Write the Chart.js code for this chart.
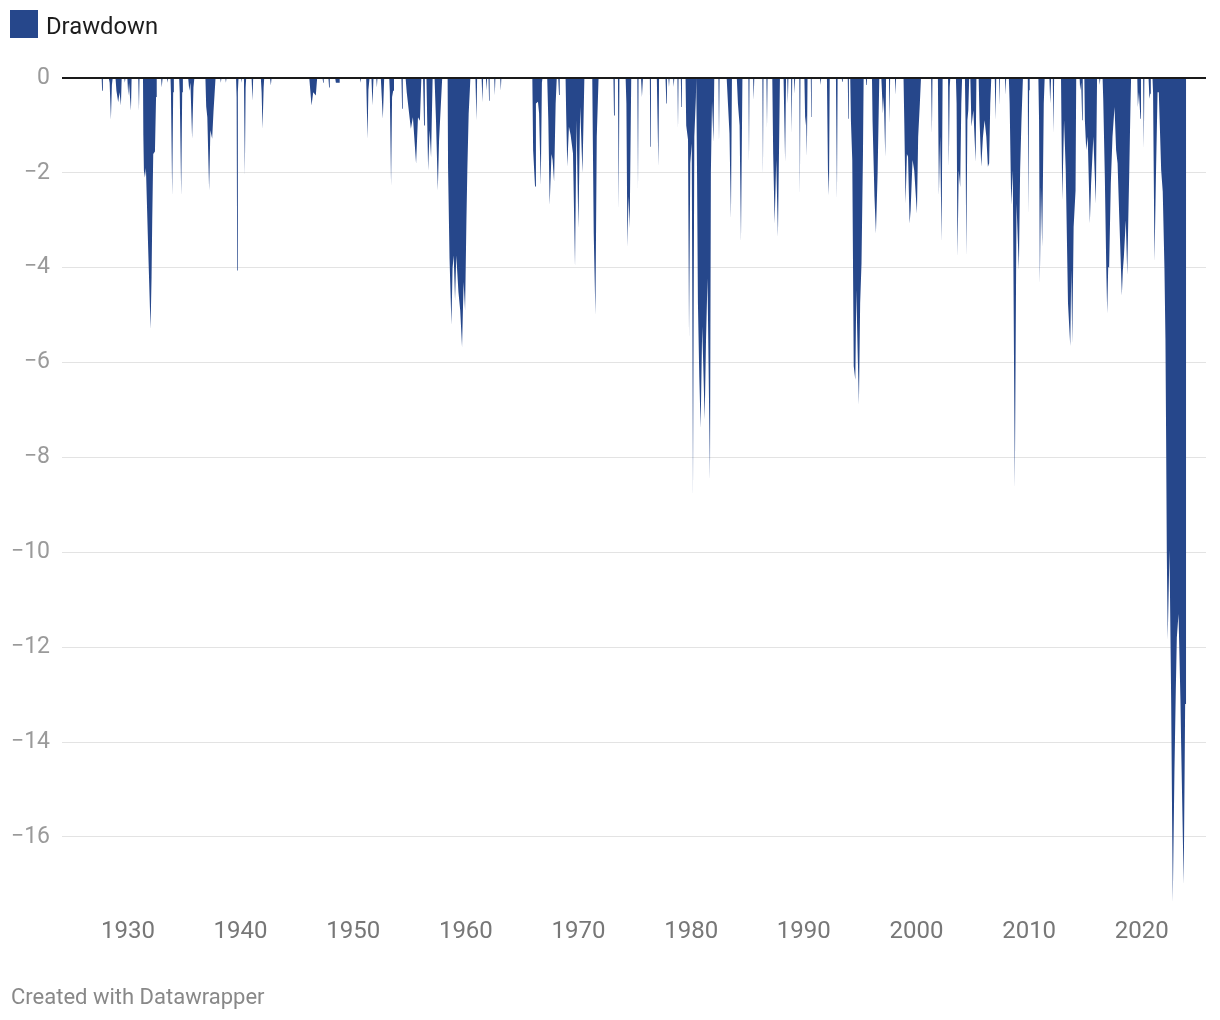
<!DOCTYPE html>
<html>
<head>
<meta charset="utf-8">
<script src="https://cdn.jsdelivr.net/npm/chart.js@4.4.1/dist/chart.umd.min.js"></script>
<style>
  html, body { margin: 0; padding: 0; background: #fff; }
  body { width: 1220px; height: 1020px; position: relative; overflow: hidden; font-family: Roboto, sans-serif; }
  #chart { position: absolute; left: 0; top: 0; }
  .swatch { position: absolute; left: 10px; top: 10px; width: 28px; height: 28px; background: #26478b; }
  .legend-label { position: absolute; left: 46px; top: 12px; font-size: 23.8px; color: #1d1d1d; }
  .credit { position: absolute; left: 11px; top: 984px; font-size: 22px; color: #888; }
</style>
</head>
<body>
<canvas id="chart" width="1220" height="1020"></canvas>
<div class="swatch"></div>
<div class="legend-label">Drawdown</div>
<div class="credit">Created with Datawrapper</div>
<script>
// [year, drawdown], one array per decade
const dd1920s = [
  [1927.65, 0], [1927.72, -0.27], [1927.78, 0],
  [1928.30, 0], [1928.38, -0.1], [1928.49, -0.88], [1928.58, -0.15], [1928.65, 0],
  [1928.90, 0], [1928.98, -0.27], [1929.14, -0.51], [1929.26, -0.3], [1929.38, -0.58], [1929.45, 0],
  [1929.68, 0], [1929.73, -0.1], [1929.78, 0],
  [1929.95, 0]
];
const dd1930s = [
  [1930.03, -0.37], [1930.10, -0.1], [1930.27, -0.69], [1930.33, 0],
  [1930.92, 0], [1930.98, -0.69], [1931.03, 0],
  [1931.34, 0], [1931.37, -1.2], [1931.42, -1.95], [1931.51, -2.1], [1931.60, -1.9], [1931.80, -3.6],
  [1932.01, -5.29], [1932.10, -4.2], [1932.16, -3.0], [1932.25, -1.6], [1932.40, -1.55], [1932.50, -0.4], [1932.56, 0],
  [1932.95, 0], [1933.00, -0.2], [1933.08, 0],
  [1933.47, 0], [1933.52, -0.1], [1933.57, 0],
  [1933.78, 0], [1933.82, -0.3], [1933.93, -2.48], [1934.02, -0.3], [1934.08, 0],
  [1934.55, 0], [1934.60, -0.3], [1934.73, -2.48], [1934.82, -0.3], [1934.88, 0],
  [1935.35, 0], [1935.45, -0.27], [1935.55, -0.1], [1935.70, -1.28], [1935.82, -0.2], [1935.90, 0],
  [1936.88, 0], [1936.95, -0.6], [1937.05, -0.83], [1937.21, -2.37], [1937.32, -1.1], [1937.48, -1.28], [1937.60, -0.7], [1937.78, 0],
  [1938.20, 0], [1938.25, -0.1], [1938.30, 0],
  [1938.65, 0], [1938.70, -0.1], [1938.75, 0],
  [1939.60, 0], [1939.65, -0.4], [1939.70, -4.06], [1939.76, -0.3], [1939.82, 0]
];
const dd1940s = [
  [1940.05, 0], [1940.09, -0.1], [1940.13, 0],
  [1940.30, 0], [1940.38, -2.06], [1940.45, -0.2], [1940.50, 0],
  [1940.98, 0], [1941.06, -0.48], [1941.12, 0],
  [1941.80, 0], [1941.87, -0.3], [1941.95, -1.07], [1942.05, -0.2], [1942.10, 0],
  [1942.62, 0], [1942.69, -0.16], [1942.75, 0],
  [1946.10, 0], [1946.30, -0.58], [1946.45, -0.3], [1946.68, -0.37], [1946.80, 0],
  [1947.28, 0], [1947.33, -0.1], [1947.38, 0],
  [1947.80, 0], [1947.86, -0.2], [1947.92, 0],
  [1948.40, 0], [1948.46, -0.1], [1948.75, -0.1], [1948.80, 0]
];
const dd1950s = [
  [1950.60, 0], [1950.65, -0.1], [1950.70, 0],
  [1951.15, 0], [1951.27, -1.28], [1951.35, -0.25], [1951.45, 0],
  [1951.62, 0], [1951.71, -0.58], [1951.80, 0],
  [1952.05, 0], [1952.10, -0.2], [1952.15, 0],
  [1952.45, 0], [1952.63, -0.86], [1952.75, 0],
  [1953.20, 0], [1953.25, -0.3], [1953.36, -2.27], [1953.45, -0.4], [1953.55, -0.27], [1953.62, 0],
  [1954.28, 0], [1954.34, -0.65], [1954.40, 0],
  [1954.65, 0], [1954.75, -0.3], [1955.00, -0.83], [1955.12, -1.07], [1955.30, -0.83], [1955.58, -1.81],
  [1955.75, -0.83], [1955.92, -0.9], [1956.05, 0],
  [1956.20, 0], [1956.29, -1.0], [1956.36, 0],
  [1956.50, 0], [1956.65, -1.95], [1956.78, -1.1], [1956.91, -1.67], [1957.05, 0],
  [1957.22, 0], [1957.35, -0.9], [1957.51, -2.37], [1957.62, -1.32], [1957.90, 0],
  [1958.38, 0], [1958.42, -1.9], [1958.55, -3.8], [1958.72, -5.21], [1958.82, -4.0], [1958.92, -3.74],
  [1959.04, -4.69], [1959.15, -3.74], [1959.34, -4.51], [1959.50, -4.9], [1959.66, -5.67], [1959.80, -4.3],
  [1959.93, -4.9]
];
const dd1960s = [
  [1960.05, -3.0], [1960.13, -1.95], [1960.25, -0.75], [1960.35, -0.27], [1960.40, 0],
  [1960.85, 0], [1960.94, -0.9], [1961.00, 0],
  [1961.40, 0], [1961.47, -0.51], [1961.53, 0],
  [1961.78, 0], [1961.83, -0.27], [1961.88, 0],
  [1962.01, 0], [1962.06, -0.48], [1962.11, 0],
  [1962.52, 0], [1962.57, -0.37], [1962.62, 0],
  [1963.05, 0], [1963.10, -0.27], [1963.15, 0],
  [1965.90, 0], [1965.97, -1.52], [1966.14, -2.29], [1966.22, -0.54], [1966.40, -0.5], [1966.50, -0.75],
  [1966.65, -2.26], [1966.75, -0.1], [1966.80, 0],
  [1967.22, 0], [1967.32, -0.9], [1967.44, -2.68], [1967.60, -1.6], [1967.70, -1.73], [1967.83, -2.19],
  [1967.97, -0.54], [1968.07, 0],
  [1968.20, 0], [1968.27, -0.36], [1968.33, 0],
  [1968.85, 0], [1968.90, -0.7], [1969.00, -1.87], [1969.15, -1.03], [1969.30, -1.2], [1969.51, -1.59],
  [1969.69, -3.98], [1969.82, -0.89], [1969.99, -3.17]
];
const dd1970s = [
  [1970.15, -0.61], [1970.35, -2.01], [1970.52, 0],
  [1971.22, 0], [1971.27, -1.3], [1971.35, -3.28], [1971.50, -5.0], [1971.62, -1.24], [1971.78, 0],
  [1973.10, 0], [1973.15, -0.79], [1973.22, 0],
  [1973.50, 0], [1973.57, -2.79], [1973.63, 0],
  [1974.18, 0], [1974.25, -0.54], [1974.34, -3.56], [1974.44, -2.5], [1974.54, -3.17], [1974.68, 0],
  [1975.22, 0], [1975.28, -2.37], [1975.33, 0],
  [1975.55, 0], [1975.63, -0.4], [1975.72, 0],
  [1976.33, 0], [1976.38, -1.45], [1976.43, 0],
  [1976.95, 0], [1977.09, -1.87], [1977.15, 0],
  [1977.72, 0], [1977.80, -0.54], [1977.85, 0],
  [1977.98, 0], [1978.03, -0.19], [1978.08, 0],
  [1978.40, 0], [1978.45, -0.19], [1978.50, 0],
  [1978.78, 0], [1978.83, -1.07], [1978.88, 0],
  [1979.08, 0], [1979.13, -0.61], [1979.18, 0],
  [1979.50, 0], [1979.56, -1.0], [1979.72, -1.3], [1979.81, -5.52], [1979.92, -1.8]
];
const dd1980s = [
  [1980.05, -1.38], [1980.16, -8.86], [1980.28, -1.24], [1980.42, -0.4], [1980.45, 0],
  [1980.48, 0], [1980.52, -2.0], [1980.60, -4.75], [1980.72, -6.3], [1980.84, -7.38], [1980.98, -5.24],
  [1981.20, -7.2], [1981.32, -5.5], [1981.45, -4.22], [1981.67, -8.47], [1981.75, -2.0], [1981.85, -0.5],
  [1981.98, -1.35], [1982.05, 0],
  [1982.42, 0], [1982.47, -1.35], [1982.52, 0],
  [1983.15, 0], [1983.25, -0.47], [1983.40, -1.17], [1983.53, -2.96], [1983.62, 0],
  [1984.05, 0], [1984.15, -0.54], [1984.30, -1.0], [1984.42, -3.45], [1984.55, 0],
  [1985.08, 0], [1985.13, -1.77], [1985.18, 0],
  [1985.50, 0], [1985.55, -0.47], [1985.60, 0],
  [1986.32, 0], [1986.37, -2.05], [1986.42, 0],
  [1986.68, 0], [1986.73, -1.07], [1986.78, 0],
  [1987.20, 0], [1987.28, -1.6], [1987.41, -3.07], [1987.55, -1.73], [1987.70, -3.35], [1987.88, 0],
  [1988.20, 0], [1988.34, -1.77], [1988.42, 0],
  [1988.53, 0], [1988.58, -0.54], [1988.63, 0],
  [1988.87, 0], [1988.92, -1.17], [1988.97, 0],
  [1989.13, 0], [1989.18, -0.33], [1989.23, 0],
  [1989.60, 0], [1989.65, -2.47], [1989.70, 0]
];
const dd1990s = [
  [1990.05, 0], [1990.13, -1.0], [1990.20, -0.8], [1990.27, -1.66], [1990.33, 0],
  [1990.62, 0], [1990.66, -0.82], [1990.70, 0],
  [1991.44, 0], [1991.49, -0.15], [1991.54, 0],
  [1992.05, 0], [1992.14, -1.94], [1992.23, -2.47], [1992.30, 0],
  [1992.85, 0], [1992.94, -2.58], [1993.00, 0],
  [1993.36, 0], [1993.41, -0.08], [1993.46, 0],
  [1993.90, 0], [1993.95, -0.86], [1994.00, 0],
  [1994.12, 0], [1994.18, -0.9], [1994.30, -1.73], [1994.43, -6.08], [1994.57, -6.36], [1994.66, -4.47],
  [1994.78, -5.8], [1994.89, -6.89], [1995.00, -4.75], [1995.12, -3.91], [1995.25, -1.6], [1995.31, 0],
  [1995.50, 0], [1995.55, -0.15], [1995.60, 0],
  [1996.05, 0], [1996.10, -0.9], [1996.27, -2.5], [1996.40, -3.28], [1996.55, -2.01], [1996.70, 0],
  [1996.88, 0], [1997.02, -0.75], [1997.10, -0.4], [1997.23, -1.66], [1997.30, 0],
  [1997.56, 0], [1997.61, -0.96], [1997.66, 0],
  [1998.09, 0], [1998.14, -0.36], [1998.19, 0],
  [1998.85, 0], [1998.92, -0.96], [1999.03, -2.65], [1999.15, -1.6], [1999.25, -1.66], [1999.39, -3.07],
  [1999.48, -2.79], [1999.65, -1.73], [1999.80, -1.95]
];
const dd2000s = [
  [2000.04, -2.86], [2000.15, -1.24], [2000.30, -0.54], [2000.40, 0],
  [2001.30, 0], [2001.37, -1.17], [2001.42, 0],
  [2001.90, 0], [2001.99, -2.47], [2002.10, -1.24], [2002.23, -3.45], [2002.32, 0],
  [2002.80, 0], [2002.87, -1.87], [2002.95, -0.19], [2003.00, 0],
  [2003.50, 0], [2003.56, -0.54], [2003.64, -3.77], [2003.75, -1.95], [2003.88, -2.3], [2003.98, -0.54], [2004.05, 0],
  [2004.30, 0], [2004.35, -0.9], [2004.42, -3.77], [2004.52, -0.89], [2004.60, -0.68], [2004.68, 0],
  [2004.78, 0], [2004.88, -1.03], [2005.05, -0.68], [2005.25, -1.77], [2005.32, 0],
  [2005.52, 0], [2005.60, -0.9], [2005.75, -1.87], [2005.90, -1.24], [2006.05, -0.89], [2006.20, -1.24],
  [2006.34, -1.87], [2006.45, -1.8], [2006.55, -0.54], [2006.64, 0],
  [2006.95, 0], [2007.02, -0.89], [2007.08, 0],
  [2007.34, 0], [2007.38, -0.58], [2007.42, 0],
  [2007.86, 0], [2007.91, -0.36], [2007.96, 0],
  [2008.20, 0], [2008.27, -0.54], [2008.41, -2.68], [2008.55, -1.95], [2008.73, -8.65], [2008.88, -2.65],
  [2009.09, -4.05], [2009.20, -1.95], [2009.32, -0.89], [2009.45, 0],
  [2009.88, 0], [2009.92, -2.86]
];
const dd2010s = [
  [2010.00, -0.26], [2010.05, 0],
  [2010.82, 0], [2010.88, -0.89], [2010.95, -4.35], [2011.05, -2.3], [2011.16, -3.56], [2011.30, -0.54], [2011.38, 0],
  [2011.80, 0], [2011.87, -0.54], [2011.95, 0],
  [2012.10, 0], [2012.16, -1.17], [2012.22, 0],
  [2012.83, 0], [2012.87, -1.0], [2012.94, -2.58], [2013.10, -0.89], [2013.25, -1.95], [2013.45, -4.75],
  [2013.65, -5.65], [2013.74, -4.05], [2013.83, -5.59], [2013.95, -3.14], [2014.12, -2.37], [2014.18, 0],
  [2014.48, 0], [2014.53, -0.26], [2014.62, -0.1], [2014.71, -0.89], [2014.76, 0],
  [2014.90, 0], [2014.95, -0.9], [2015.07, -1.52], [2015.20, -1.24], [2015.39, -3.07], [2015.50, -2.23],
  [2015.70, -1.24], [2015.92, -2.65], [2016.03, 0],
  [2016.22, 0], [2016.27, -0.15], [2016.32, 0],
  [2016.52, 0], [2016.58, -0.47], [2016.72, -2.1], [2016.85, -4.05], [2016.93, -4.96], [2017.02, -3.98],
  [2017.10, -4.0], [2017.25, -2.23], [2017.40, -1.24], [2017.58, -0.61], [2017.72, -1.52], [2017.85, -1.8],
  [2018.00, -2.93], [2018.23, -4.58], [2018.32, -4.05], [2018.41, -3.77], [2018.58, -3.0], [2018.71, -4.15],
  [2018.80, -3.0], [2018.89, -1.95], [2019.00, -0.54], [2019.05, 0],
  [2019.60, 0], [2019.65, -0.61], [2019.75, -0.3], [2019.88, -0.86], [2019.93, 0]
];
const dd2020s = [
  [2020.12, 0], [2020.18, -1.49], [2020.23, 0],
  [2020.60, 0], [2020.68, -0.44], [2020.75, -0.33], [2020.80, 0],
  [2020.95, 0], [2021.00, -0.3], [2021.13, -3.87], [2021.25, -2.15], [2021.40, -0.3], [2021.51, -0.3],
  [2021.72, -1.94], [2021.86, -2.4], [2022.01, -4.0], [2022.10, -5.5], [2022.16, -7.6], [2022.22, -10.0],
  [2022.30, -11.84], [2022.46, -9.95], [2022.61, -13.2], [2022.75, -17.38], [2022.90, -14.6], [2023.02, -12.9],
  [2023.11, -11.8], [2023.26, -11.3], [2023.43, -13.1], [2023.49, -14.0], [2023.72, -17.0], [2023.85, -13.2],
  [2023.94, -13.2]
];

const yearTicks = [1930, 1940, 1950, 1960, 1970, 1980, 1990, 2000, 2010, 2020];
const valueTicks = [0, -2, -4, -6, -8, -10, -12, -14, -16];

const drawdown = [
  ...dd1920s, ...dd1930s, ...dd1940s, ...dd1950s, ...dd1960s,
  ...dd1970s, ...dd1980s, ...dd1990s, ...dd2000s, ...dd2010s, ...dd2020s
].map(([x, y]) => ({ x, y }));

const BLUE = '#26478b';

// black baseline drawn over the area
const zeroLine = {
  id: 'zeroLine',
  afterDatasetsDraw(chart) {
    const { ctx, chartArea, scales } = chart;
    const py = scales.y.getPixelForValue(0);
    ctx.save();
    ctx.strokeStyle = '#1a1a1a';
    ctx.lineWidth = 2;
    ctx.beginPath();
    ctx.moveTo(chartArea.left, py);
    ctx.lineTo(chartArea.right, py);
    ctx.stroke();
    ctx.restore();
  }
};

new Chart(document.getElementById('chart'), {
  type: 'line',
  data: {
    datasets: [{
      label: 'Drawdown',
      data: drawdown,
      fill: 'origin',
      backgroundColor: BLUE,
      borderColor: 'rgba(0,0,0,0)',
      borderWidth: 0,
      pointRadius: 0,
      tension: 0
    }]
  },
  options: {
    responsive: false,
    animation: false,
    devicePixelRatio: 1,
    layout: { padding: { top: 78, right: 14, bottom: 72, left: 0 } },
    plugins: { legend: { display: false }, tooltip: { enabled: false } },
    scales: {
      x: {
        type: 'linear',
        min: 1924.15,
        max: 2025.7,
        grid: { display: false, drawTicks: false },
        border: { display: false },
        afterBuildTicks: (s) => { s.ticks = yearTicks.map((v) => ({ value: v })); },
        afterFit: (s) => { s.height = 40; },
        ticks: {
          padding: 10,
          color: '#777',
          font: { family: 'Roboto', size: 24 },
          maxRotation: 0,
          callback: (v) => String(v)
        }
      },
      y: {
        min: -17.5,
        max: 0,
        afterBuildTicks: (s) => { s.ticks = valueTicks.map((v) => ({ value: v })); },
        afterFit: (s) => { s.width = 62; },
        grid: {
          drawTicks: false,
          color: (c) => (c.tick && c.tick.value === 0 ? 'rgba(0,0,0,0)' : '#e3e3e3'),
          lineWidth: 1
        },
        border: { display: false },
        ticks: {
          padding: 12,
          color: '#9a9a9a',
          font: { family: 'Roboto', size: 23 },
          callback: (v) => (v === 0 ? '0' : '\u2212' + Math.abs(v))
        }
      }
    }
  },
  plugins: [zeroLine]
});
</script>
</body>
</html>
